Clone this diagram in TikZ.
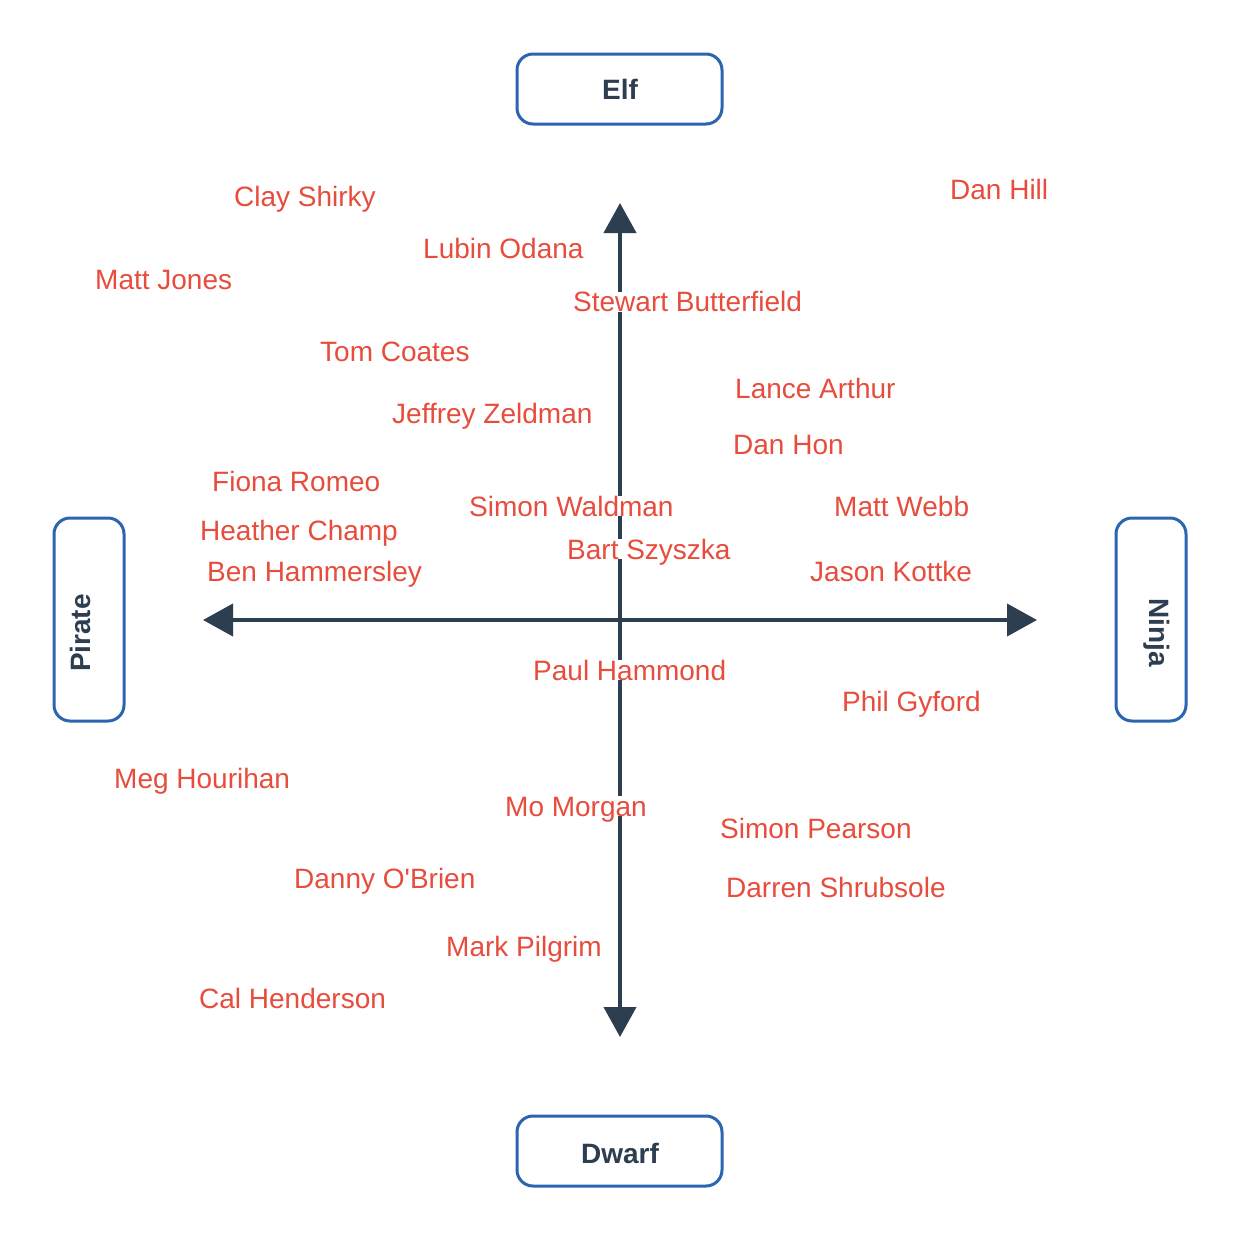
\documentclass[tikz,border=0pt]{standalone}
\usepackage{fontspec}
\setmainfont{Liberation Sans}[Ligatures=TeXOff]
\usetikzlibrary{arrows.meta}
\definecolor{nred}{HTML}{E74C3C}
\definecolor{ndark}{HTML}{2C3E50}
\definecolor{nblue}{HTML}{2B65B0}
\tikzset{
  axisbox/.style={draw=nblue, line width=3pt, rounded corners=16pt, fill=white, inner sep=0pt},
  axislabel/.style={text=ndark, font=\fontsize{28}{33}\selectfont\bfseries, inner sep=0pt},
  axisline/.style={draw=ndark, line width=4pt, arrows={Triangle[length=30pt,width=32pt]-Triangle[length=30pt,width=32pt]}},
  person/.style={text=nred, font=\fontsize{28}{33}\selectfont, anchor=base west, fill=white, inner sep=0pt, text height=20pt, text depth=0pt}
}
\begin{document}
\begin{tikzpicture}[x=1pt,y=-1pt]
\useasboundingbox[fill=white] (0,0) rectangle (1240,1240);
% category boxes
\node[axisbox, minimum width=205pt, minimum height=70pt] (elf) at (619.5,89) {};
\node[axislabel] (elft) at (620,89.5) {Elf};
\node[axisbox, minimum width=205pt, minimum height=70pt] (dwarf) at (619.5,1151) {};
\node[axislabel] (dwarft) at (620,1153) {Dwarf};
\node[axisbox, minimum width=70pt, minimum height=203pt] (pirate) at (89,619.5) {};
\node[axislabel, rotate=90] (piratet) at (80,633) {Pirate};
\node[axisbox, minimum width=70pt, minimum height=203pt] (ninja) at (1151,619.5) {};
\node[axislabel, rotate=-90] (ninjat) at (1157,633) {Ninja};
% axes
\coordinate (top) at (620,203);
\coordinate (bottom) at (620,1037);
\coordinate (left) at (203,620);
\coordinate (right) at (1037,620);
\draw[axisline] (left) -- (right);
\draw[axisline] (top) -- (bottom);
% people
\node[person] (p1) at (234,206) {Clay Shirky};
\node[person] (p2) at (950,199) {Dan Hill};
\node[person] (p3) at (423,258) {Lubin Odana};
\node[person] (p4) at (95,289) {Matt Jones};
\node[person] (p5) at (573,311.5) {Stewart Butterfield};
\node[person] (p6) at (320,361) {Tom Coates};
\node[person] (p7) at (735,398) {Lance Arthur};
\node[person] (p8) at (392,423) {Jeffrey Zeldman};
\node[person] (p9) at (733,454) {Dan Hon};
\node[person] (p10) at (212,491) {Fiona Romeo};
\node[person] (p11) at (469,516) {Simon Waldman};
\node[person] (p12) at (834,516) {Matt Webb};
\node[person] (p13) at (200,540) {Heather Champ};
\node[person] (p14) at (567,559) {Bart Szyszka};
\node[person] (p15) at (207,581) {Ben Hammersley};
\node[person] (p16) at (810,581) {Jason Kottke};
\node[person] (p17) at (533,680) {Paul Hammond};
\node[person] (p18) at (842,711) {Phil Gyford};
\node[person] (p19) at (114,788) {Meg Hourihan};
\node[person] (p20) at (505,816) {Mo Morgan};
\node[person] (p21) at (720,838) {Simon Pearson};
\node[person] (p22) at (726,897) {Darren Shrubsole};
\node[person] (p23) at (294,888) {Danny O'Brien};
\node[person] (p24) at (446,956) {Mark Pilgrim};
\node[person] (p25) at (199,1008) {Cal Henderson};
\end{tikzpicture}
\end{document}
